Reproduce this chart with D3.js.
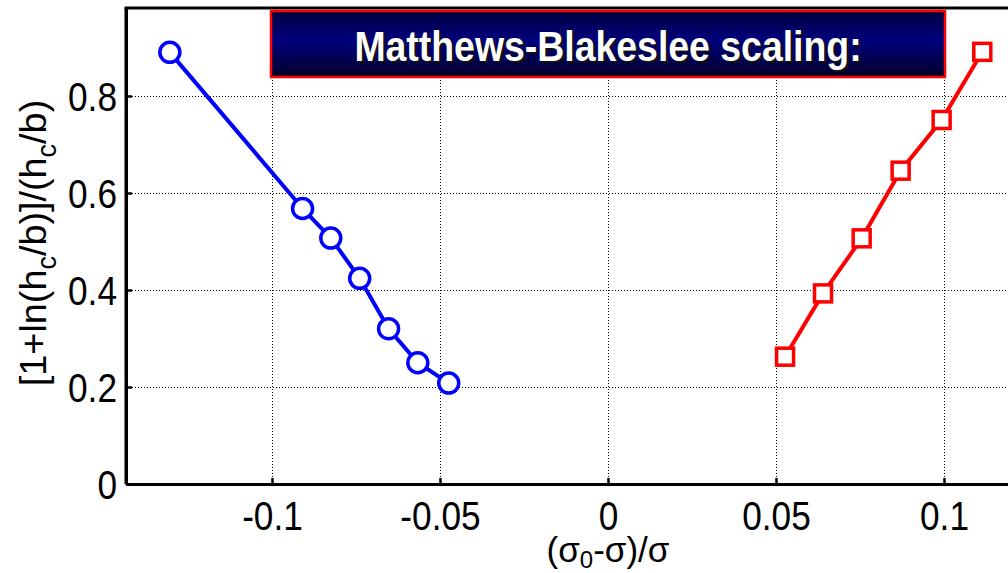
<!DOCTYPE html>
<html><head><meta charset="utf-8">
<script src="https://cdn.jsdelivr.net/npm/d3@7"></script>
<style>
html,body{margin:0;padding:0;background:#fff;}
svg{display:block;}
</style></head>
<body>
<svg id="chart" width="1008" height="573"></svg>
<script>
// Data
const blueX = [-0.1304, -0.0909, -0.0825, -0.0739, -0.0653, -0.0566, -0.0474];
const blueY = [0.890, 0.568, 0.507, 0.424, 0.320, 0.250, 0.208];
const redX = [0.0527, 0.0640, 0.0755, 0.0871, 0.0993, 0.1114];
const redY = [0.2625, 0.393, 0.5065, 0.646, 0.7505, 0.891];
const xTicks = [-0.1, -0.05, 0, 0.05, 0.1];
const xTickLabels = ["-0.1", "-0.05", "0", "0.05", "0.1"];
const yTicks = [0, 0.2, 0.4, 0.6, 0.8];
const yTickLabels = ["0", "0.2", "0.4", "0.6", "0.8"];
const titleText = "Matthews-Blakeslee scaling:";

const svg = d3.select("#chart");
const L = 126, R = 1008, T = 8, B = 484;
const x = d3.scaleLinear().domain([-0.14345, 0.11905]).range([L, R]);
const y = d3.scaleLinear().domain([0, 0.9814]).range([B, T]);
const FONT = "'Liberation Sans',Arial,Helvetica,sans-serif";
const NARROW = 0.86;

// grid
const grid = svg.append("g").attr("shape-rendering", "crispEdges");
grid.selectAll("line.vx").data(xTicks).join("line")
  .attr("x1", d => Math.round(x(d)) + 0.5).attr("x2", d => Math.round(x(d)) + 0.5).attr("y1", T).attr("y2", B)
  .attr("stroke", "#000").attr("stroke-width", 1).attr("stroke-dasharray", "1,2");
grid.selectAll("line.hy").data(yTicks.filter(d => d > 0)).join("line")
  .attr("x1", L).attr("x2", R).attr("y1", d => Math.round(y(d)) + 0.5).attr("y2", d => Math.round(y(d)) + 0.5)
  .attr("stroke", "#000").attr("stroke-width", 1).attr("stroke-dasharray", "1,2");

// axes
const xAxis = d3.axisBottom(x).tickValues(xTicks).tickFormat((d, i) => xTickLabels[i]).tickSizeInner(-6).tickSizeOuter(0).tickPadding(17);
const gx = svg.append("g").attr("transform", `translate(0,${B})`).call(xAxis);
const yAxis = d3.axisLeft(y).tickValues(yTicks).tickFormat((d, i) => yTickLabels[i]).tickSizeInner(-6).tickSizeOuter(0).tickPadding(9);
const gy = svg.append("g").attr("transform", `translate(${L},0)`).call(yAxis);
[gx, gy].forEach(g => {
  g.select(".domain").attr("stroke", "#000").attr("stroke-width", 3);
  g.selectAll(".tick line").attr("stroke", "#000").attr("stroke-width", 2.5);
  g.selectAll(".tick text").attr("font-family", FONT).attr("font-size", 41).attr("fill", "#000");
});
gx.selectAll(".tick text").attr("dy", "0.71em").attr("transform", `scale(${NARROW},1)`);
gy.selectAll(".tick text").attr("dy", "0.36em").attr("x", -9 / NARROW).attr("transform", `scale(${NARROW},1)`);
// frame lines
svg.append("line").attr("x1", L - 1.5).attr("x2", R).attr("y1", T).attr("y2", T)
  .attr("stroke", "#000").attr("stroke-width", 3);
svg.append("line").attr("x1", L).attr("x2", L).attr("y1", T).attr("y2", B)
  .attr("stroke", "#000").attr("stroke-width", 3);

// title box
const defs = svg.append("defs");
const grad = defs.append("linearGradient").attr("id", "tg").attr("x1", 0).attr("x2", 0).attr("y1", 0).attr("y2", 1);
grad.append("stop").attr("offset", "0%").attr("stop-color", "#000040");
grad.append("stop").attr("offset", "45%").attr("stop-color", "#00007c");
grad.append("stop").attr("offset", "100%").attr("stop-color", "#000028");
const tbx0 = 271, tbx1 = 945, tby0 = 11, tby1 = 77;
svg.append("rect").attr("x", tbx0).attr("y", tby0).attr("width", tbx1 - tbx0).attr("height", tby1 - tby0)
  .attr("fill", "url(#tg)").attr("stroke", "#ff0000").attr("stroke-width", 2.5);
const tcx = (tbx0 + tbx1) / 2;
const TN = 0.87;
svg.append("text").attr("transform", `translate(${tcx + 2},${63}) scale(${TN},1)`).attr("text-anchor", "middle")
  .attr("font-family", FONT).attr("font-weight", "bold").attr("font-size", 43).attr("fill", "#111")
  .text(titleText);
svg.append("text").attr("transform", `translate(${tcx},${61}) scale(${TN},1)`).attr("text-anchor", "middle")
  .attr("font-family", FONT).attr("font-weight", "bold").attr("font-size", 43).attr("fill", "#fff")
  .text(titleText);

// series
const line = d3.line().x(d => x(d[0])).y(d => y(d[1]));
const blue = blueX.map((v, i) => [v, blueY[i]]);
const red = redX.map((v, i) => [v, redY[i]]);
svg.append("path").datum(blue).attr("d", line).attr("fill", "none").attr("stroke", "#0000ff").attr("stroke-width", 4);
svg.append("path").datum(red).attr("d", line).attr("fill", "none").attr("stroke", "#ff0000").attr("stroke-width", 4);
svg.selectAll("circle.b").data(blue).join("circle")
  .attr("cx", d => x(d[0])).attr("cy", d => y(d[1])).attr("r", 10)
  .attr("fill", "#fff").attr("stroke", "#0000ff").attr("stroke-width", 3.5);
const s = 17;
svg.selectAll("rect.r").data(red).join("rect")
  .attr("x", d => x(d[0]) - s / 2).attr("y", d => y(d[1]) - s / 2).attr("width", s).attr("height", s)
  .attr("fill", "#fff").attr("stroke", "#ff0000").attr("stroke-width", 3.5);

// axis labels
const xl = svg.append("text").attr("x", 608).attr("y", 562).attr("text-anchor", "middle")
  .attr("font-family", FONT).attr("font-size", 35).attr("fill", "#000");
xl.append("tspan").text("(σ");
xl.append("tspan").attr("font-size", 24).attr("dy", 6).text("0");
xl.append("tspan").attr("dy", -6).text("-σ)/σ");

const yl = svg.append("text").attr("transform", `translate(46,243) rotate(-90) scale(0.9,0.9)`).attr("text-anchor", "middle")
  .attr("font-family", FONT).attr("font-size", 42).attr("fill", "#000");
yl.append("tspan").text("[1+ln(h");
yl.append("tspan").attr("font-size", 30).attr("dy", 11).text("c");
yl.append("tspan").attr("dy", -11).text("/b)]/(h");
yl.append("tspan").attr("font-size", 30).attr("dy", 11).text("c");
yl.append("tspan").attr("dy", -11).text("/b)");
</script>
</body></html>
